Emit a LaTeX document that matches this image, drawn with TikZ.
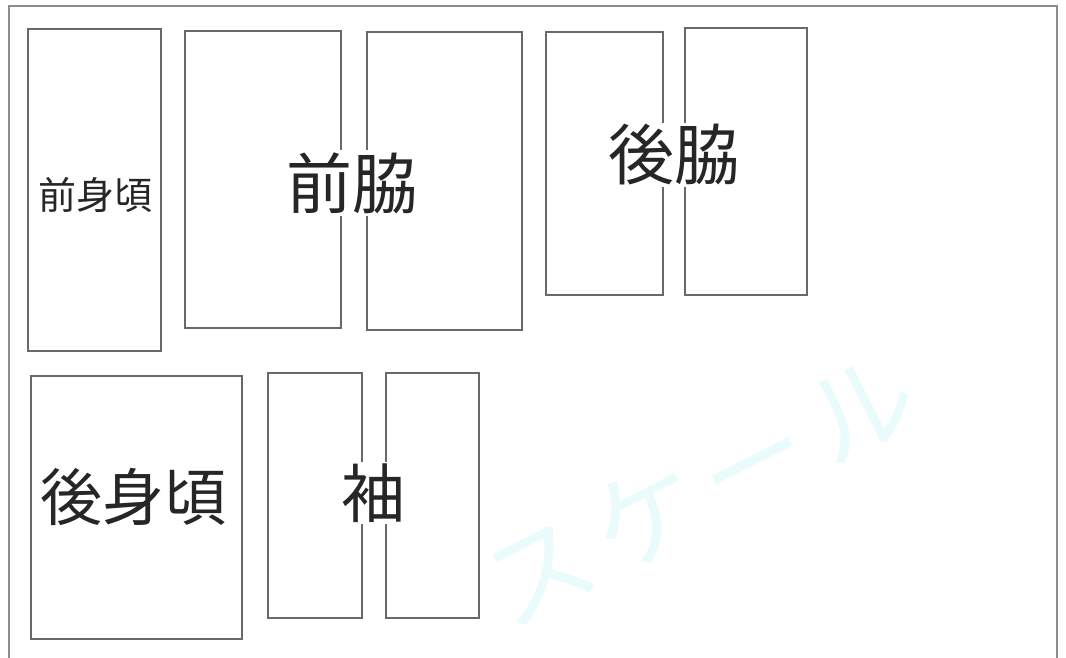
\documentclass[tikz,border=0pt]{standalone}
\usepackage{fontspec}
\usepackage{tikz}
\usetikzlibrary{positioning}
\newfontfamily\jpfont{Noto Sans CJK JP}
\definecolor{framegray}{RGB}{140,140,140}
\definecolor{piecegray}{RGB}{105,105,105}
\definecolor{markcyan}{RGB}{234,251,251}

\tikzset{
    piece/.style={draw=piecegray, line width=1.6pt, inner sep=0pt},
    piecelabel/.style={fill=white, inner sep=2pt, text=black!85}
}

\begin{document}
\begin{tikzpicture}[x=1pt, y=-1pt]
    \useasboundingbox (0,0) rectangle (1066,658);
    \clip (0,0) rectangle (1066,658);

    % Watermark
    \node[rotate=27, text=markcyan, font=\jpfont\fontsize{108}{112}\selectfont] (mark) at (700,489) {ス\hspace{12pt}ケ\hspace{12pt}ー\hspace{12pt}ル};

    % Outer frame
    \draw[framegray, line width=2.2pt] (9,700) -- (9,6) -- (1057,6) -- (1057,700);

    % Top row pieces
    \node[piece, minimum width=133pt, minimum height=322pt] (maeMigoro) at (94.5,190) {};
    \node[piece, minimum width=156pt, minimum height=297pt] (maeWakiL) at (263,179.5) {};
    \node[piece, minimum width=155pt, minimum height=298pt] (maeWakiR) at (444.5,181) {};
    \node[piece, minimum width=117pt, minimum height=263pt] (ushiroWakiL) at (604.5,163.5) {};
    \node[piece, minimum width=122pt, minimum height=267pt] (ushiroWakiR) at (746,161.5) {};

    % Bottom row pieces
    \node[piece, minimum width=211pt, minimum height=263pt] (ushiroMigoro) at (136.5,507.5) {};
    \node[piece, minimum width=94pt, minimum height=245pt] (sodeL) at (315,495.5) {};
    \node[piece, minimum width=93pt, minimum height=245pt] (sodeR) at (432.5,495.5) {};

    % Labels
    \node[piecelabel, font=\jpfont\fontsize{38}{40}\selectfont] (maeMigoroText) at (95,195) {前身頃};
    \node[piecelabel, font=\jpfont\fontsize{66}{70}\selectfont] (maeWakiText) at (352,183) {前脇};
    \node[piecelabel, font=\jpfont\fontsize{66}{70}\selectfont] (ushiroWakiText) at (674,155) {後脇};
    \node[piecelabel, font=\jpfont\fontsize{62}{66}\selectfont] (ushiroMigoroText) at (133,497) {後身頃};
    \node[piecelabel, font=\jpfont\fontsize{64}{68}\selectfont] (sodeText) at (373,493) {袖};
\end{tikzpicture}
\end{document}
